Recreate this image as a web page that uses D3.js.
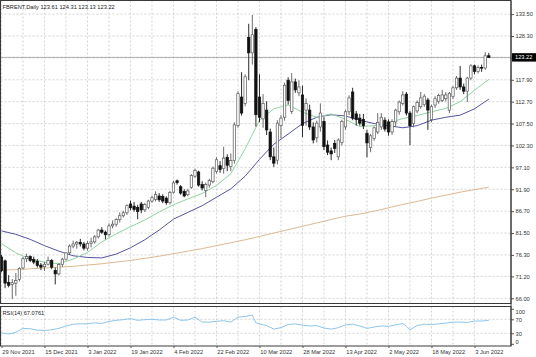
<!DOCTYPE html>
<html><head><meta charset="utf-8">
<script src="https://cdn.jsdelivr.net/npm/d3@7"></script>
<style>
html,body{margin:0;padding:0;background:#fff;}
svg{display:block;font-family:"Liberation Sans",Arial,sans-serif;}
</style></head><body>
<svg id="c" width="536" height="357"></svg>
<script>
// ---------------- DATA ----------------
const symbolTitle = "FBRENT,Daily  123.61 124.31 123.13 123.22";
const rsiTitle = "RSI(14) 67.0761";

const dates = [
"2021-11-29","2021-11-30",
"2021-12-01","2021-12-02","2021-12-03","2021-12-06","2021-12-07","2021-12-08","2021-12-09","2021-12-10","2021-12-13","2021-12-14","2021-12-15","2021-12-16","2021-12-17","2021-12-20","2021-12-21","2021-12-22","2021-12-23","2021-12-27","2021-12-28","2021-12-29","2021-12-30","2021-12-31",
"2022-01-03","2022-01-04","2022-01-05","2022-01-06","2022-01-07","2022-01-10","2022-01-11","2022-01-12","2022-01-13","2022-01-14","2022-01-17","2022-01-18","2022-01-19","2022-01-20","2022-01-21","2022-01-24","2022-01-25","2022-01-26","2022-01-27","2022-01-28","2022-01-31",
"2022-02-01","2022-02-02","2022-02-03","2022-02-04","2022-02-07","2022-02-08","2022-02-09","2022-02-10","2022-02-11","2022-02-14","2022-02-15","2022-02-16","2022-02-17","2022-02-18","2022-02-21","2022-02-22","2022-02-23","2022-02-24","2022-02-25","2022-02-28",
"2022-03-01","2022-03-02","2022-03-03","2022-03-04","2022-03-07","2022-03-08","2022-03-09","2022-03-10","2022-03-11","2022-03-14","2022-03-15","2022-03-16","2022-03-17","2022-03-18","2022-03-21","2022-03-22","2022-03-23","2022-03-24","2022-03-25","2022-03-28","2022-03-29","2022-03-30","2022-03-31",
"2022-04-01","2022-04-04","2022-04-05","2022-04-06","2022-04-07","2022-04-08","2022-04-11","2022-04-12","2022-04-13","2022-04-14","2022-04-18","2022-04-19","2022-04-20","2022-04-21","2022-04-22","2022-04-25","2022-04-26","2022-04-27","2022-04-28","2022-04-29",
"2022-05-02","2022-05-03","2022-05-04","2022-05-05","2022-05-06","2022-05-09","2022-05-10","2022-05-11","2022-05-12","2022-05-13","2022-05-16","2022-05-17","2022-05-18","2022-05-19","2022-05-20","2022-05-23","2022-05-24","2022-05-25","2022-05-26","2022-05-27","2022-05-30","2022-05-31",
"2022-06-01","2022-06-02","2022-06-03","2022-06-06","2022-06-07","2022-06-08","2022-06-09"
];

const open = [
75.8,74.9,69.8,69.3,69.6,70.5,73.2,75.4,75.9,75.2,
74.8,73.9,73.5,74.1,75.0,72.6,71.8,74.0,75.3,76.8,
78.4,78.9,79.3,78.9,77.9,79.0,79.4,80.6,82.2,81.7,
81.1,83.2,83.6,84.7,85.6,86.3,88.4,87.9,87.6,88.4,
87.0,87.6,89.1,89.5,90.3,90.2,89.8,88.7,91.2,93.9,
92.5,91.4,90.6,92.3,95.0,96.0,93.0,91.6,92.9,93.7,
96.1,97.5,96.8,99.5,97.3,98.7,107.0,113.8,112.3,128.0,
124.3,129.9,113.8,108.6,110.7,105.5,99.6,98.8,107.0,109.0,
117.8,110.4,117.4,114.8,114.3,110.7,110.7,106.7,104.1,106.7,
108.0,102.4,101.0,102.8,99.6,103.0,106.7,110.3,115.0,109.8,
108.8,108.5,105.2,101.8,104.0,105.5,106.7,108.3,107.9,105.5,
107.9,110.3,112.3,114.5,110.0,107.5,110.5,111.5,112.0,113.1,
108.5,111.9,112.8,113.0,113.4,110.7,113.9,116.0,118.3,116.2,
115.2,118.3,121.2,119.9,120.8,120.7,123.61
];
const high = [
76.3,75.2,71.5,70.6,72.0,73.4,75.8,76.6,76.2,75.9,
75.3,74.4,74.6,75.9,75.3,73.3,74.3,75.6,76.9,78.8,
79.7,79.6,80.1,79.4,79.6,80.4,81.0,82.5,82.9,82.1,
83.8,84.5,85.0,86.4,86.8,88.3,89.2,88.9,88.2,88.9,
88.6,89.4,90.4,91.4,91.0,90.7,90.2,91.5,93.9,94.2,
92.9,91.9,92.0,95.5,96.8,96.3,93.8,93.5,94.4,97.3,
99.5,98.6,102.0,100.2,100.4,107.8,115.2,119.7,119.2,131.2,
133.3,130.4,119.2,114.5,112.8,106.3,101.8,108.3,109.5,117.2,
118.5,119.5,118.2,117.8,116.5,113.5,112.0,107.8,108.2,112.3,
109.0,103.5,101.8,103.6,104.0,108.4,110.8,114.2,116.0,110.5,
109.8,109.8,106.0,105.0,106.8,110.0,110.0,109.0,108.5,108.5,
111.0,113.0,115.2,115.0,110.5,111.8,113.0,115.0,114.5,113.6,
112.0,114.0,114.6,115.5,115.0,115.0,116.4,118.8,121.2,117.0,
118.6,121.6,121.5,121.3,121.5,124.5,124.31
];
const low = [
72.2,68.4,68.6,65.8,66.6,70.0,72.9,74.6,74.6,74.1,
73.3,72.7,72.5,73.8,72.9,69.3,71.4,73.5,75.0,76.4,
77.9,77.8,78.3,77.4,77.3,78.1,79.0,80.2,81.3,80.0,
80.7,82.6,83.0,84.0,85.2,85.8,86.9,86.6,84.8,86.2,
86.5,87.2,88.7,89.0,88.9,88.6,88.2,88.3,90.9,93.0,
90.6,90.0,90.2,92.0,94.6,92.5,91.6,90.0,92.3,93.3,
95.6,95.8,95.6,96.2,96.2,98.0,106.5,109.4,111.6,117.8,
121.5,106.8,107.8,106.5,104.8,98.8,97.2,97.8,104.0,108.2,
112.0,109.8,114.8,114.0,104.3,107.0,106.0,102.8,103.0,105.6,
101.2,100.0,98.8,100.5,98.8,102.3,106.0,109.5,108.3,107.0,
107.0,106.2,99.5,100.7,103.4,105.0,106.0,105.6,104.6,104.8,
106.8,109.6,111.8,109.4,102.4,106.6,110.0,111.0,111.5,106.0,
107.8,111.2,112.2,112.6,112.8,110.0,113.3,115.5,115.5,114.5,
112.6,117.8,119.2,119.4,119.8,120.3,123.13
];
const close = [
72.6,69.6,69.1,69.7,70.2,73.1,75.4,75.9,75.0,74.6,
73.8,73.4,74.1,75.0,73.4,71.8,74.0,75.3,76.8,78.4,
78.9,79.3,78.9,77.9,79.0,79.4,80.6,82.2,81.7,81.1,
83.2,83.6,84.7,85.6,86.3,88.0,87.5,87.1,86.6,87.0,
88.3,89.1,89.9,90.7,89.4,89.1,88.7,91.1,93.4,93.5,
91.0,90.3,91.5,95.2,96.4,92.9,92.2,93.0,94.0,96.9,
98.9,96.6,99.3,97.6,98.7,107.2,114.6,110.0,118.6,124.3,
128.6,109.6,109.0,112.3,106.0,99.6,98.1,107.6,108.8,116.6,
113.0,117.4,115.5,116.2,107.1,112.3,106.7,103.6,107.6,110.0,
102.0,100.7,100.3,101.6,103.6,108.0,110.3,113.6,108.8,108.5,
107.6,107.0,102.9,104.6,106.5,107.8,109.0,106.2,105.5,108.0,
110.7,112.6,114.3,110.0,107.0,111.5,112.5,113.6,114.0,110.7,
111.5,113.4,114.2,114.3,114.3,114.7,116.0,118.3,116.2,115.2,
118.3,121.2,119.9,120.8,120.7,123.6,123.22
];

// moving averages at every 4th bar
const maBars = [0,4,8,12,16,20,24,28,32,36,40,44,48,52,56,60,64,68,72,76,80,84,88,92,96,100,104,108,112,116,120,124,128,132,136];
const maFast = [79.0,76.8,75.3,74.6,74.2,75.3,76.9,79.4,81.3,83.0,84.6,86.5,88.2,89.6,90.9,92.8,95.6,101.5,108.3,111.0,111.9,110.2,109.0,109.8,108.5,106.8,107.0,107.6,108.7,109.4,110.3,111.1,112.7,115.4,118.0];
const maMid  = [82.0,81.2,80.0,78.5,77.2,76.1,75.7,75.6,76.5,78.0,79.9,82.2,84.8,86.4,88.0,90.0,92.0,95.0,99.0,102.6,105.0,107.5,109.0,109.6,109.3,108.3,107.5,107.0,106.5,107.0,108.3,109.0,109.5,111.0,113.3];
const maSlow = [72.7,72.8,73.0,73.2,73.4,73.6,73.9,74.2,74.6,75.0,75.5,76.0,76.6,77.2,77.8,78.5,79.2,79.9,80.7,81.5,82.3,83.1,83.9,84.7,85.5,86.0,86.7,87.5,88.3,89.0,89.8,90.5,91.2,91.8,92.4];

// RSI(14)
const rsiBars = [0,2,4,6,8,10,12,14,16,18,20,22,24,26,28,30,32,34,36,38,40,42,44,46,48,50,52,54,56,58,60,62,64,66,68,70,71,72,74,76,78,80,82,84,86,88,90,92,94,96,98,100,102,104,106,108,110,112,113,114,116,118,120,122,124,126,128,130,132,134,136];
const rsiVals = [31,28,33,44,43,39,38,40,44,51,56,57,57,60,58,64,67,69,72,67,69,70,68,68,76,67,68,76,62,62,64,66,62,76,78,82,60,57,52,42,46,55,57,53,51,52,45,42,46,54,56,51,44,48,51,50,54,58,50,40,52,56,55,57,59,62,62,61,65,65,67.08];

const priceTicks = [133.50,128.30,123.10,117.90,112.70,107.50,102.30,97.10,91.90,86.70,81.50,76.30,71.20,66.00];
const rsiTicks = [100,70,30,0];
const rsiLevels = [70,30];
const dateTickDates = ["2021-11-29","2021-12-15","2022-01-03","2022-01-19","2022-02-04","2022-02-22","2022-03-10","2022-03-28","2022-04-13","2022-05-02","2022-05-18","2022-06-03"];
const dateTickLabels = ["29 Nov 2021","15 Dec 2021","3 Jan 2022","19 Jan 2022","4 Feb 2022","22 Feb 2022","10 Mar 2022","28 Mar 2022","13 Apr 2022","2 May 2022","18 May 2022","3 Jun 2022"];

// ---------------- LAYOUT ----------------
const svg = d3.select("#c");
const plotL = 0.5, plotR = 511, mainT = 0.5, mainB = 303.5, rsiT = 306.5, rsiB = 346;
const FS = 5.7;

const x = d3.scalePoint().domain(dates).range([1.5, 488.8]);
const y = d3.scaleLinear().domain([66, 133.5]).range([298.3, 14.1]);
const yr = d3.scaleLinear().domain([0, 100]).range([343.8, 308.8]);

svg.append("rect").attr("width",536).attr("height",357).attr("fill","#fff");

// grid
const gridDates = dates.filter((d,i)=> i % 6 === 0);
const grid = svg.append("g").attr("stroke","#c9c9c9").attr("stroke-width",0.8).attr("stroke-dasharray","2,2");
grid.selectAll(".vg").data(gridDates).join("line")
  .attr("x1",d=>x(d)).attr("x2",d=>x(d)).attr("y1",mainT).attr("y2",mainB);
grid.selectAll(".vr").data(gridDates).join("line").attr("class","vr")
  .attr("x1",d=>x(d)).attr("x2",d=>x(d)).attr("y1",rsiT).attr("y2",rsiB);
grid.selectAll(".hg").data(priceTicks).join("line").attr("class","hg")
  .attr("x1",plotL).attr("x2",plotR).attr("y1",d=>y(d)).attr("y2",d=>y(d));
grid.selectAll(".rl").data(rsiLevels).join("line").attr("class","rl")
  .attr("x1",plotL).attr("x2",plotR).attr("y1",d=>yr(d)).attr("y2",d=>yr(d));

// bid line
const last = close[close.length-1];
svg.append("line").attr("x1",plotL).attr("x2",plotR).attr("y1",y(last)).attr("y2",y(last))
  .attr("stroke","#9a9a9a").attr("stroke-width",0.8);

// moving averages
const maLine = vals => d3.line().x((b,i)=>x(dates[b])).y((b,i)=>y(vals[i]))(maBars);
svg.append("path").attr("d",maLine(maSlow)).attr("fill","none").attr("stroke","#dcb994").attr("stroke-width",1);
svg.append("path").attr("d",maLine(maMid)).attr("fill","none").attr("stroke","#55559e").attr("stroke-width",1);
svg.append("path").attr("d",maLine(maFast)).attr("fill","none").attr("stroke","#8fd3a2").attr("stroke-width",1);

// candles
const idx = d3.range(dates.length);
const cg = svg.append("g");
cg.selectAll(".wick").data(idx).join("line")
  .attr("x1",i=>x(dates[i])).attr("x2",i=>x(dates[i]))
  .attr("y1",i=>y(high[i])).attr("y2",i=>y(low[i]))
  .attr("stroke",i=> close[i] >= open[i] ? "#5a5a5a" : "#111").attr("stroke-width",0.9);
cg.selectAll(".body").data(idx).join("rect")
  .attr("x",i=>x(dates[i]) - 1.2)
  .attr("width",2.4)
  .attr("y",i=>y(Math.max(open[i],close[i])))
  .attr("height",i=>Math.max(0.6, Math.abs(y(open[i]) - y(close[i]))))
  .attr("fill",i=> close[i] >= open[i] ? "#fff" : "#111")
  .attr("stroke",i=> close[i] >= open[i] ? "#5a5a5a" : "#111")
  .attr("stroke-width",0.7);

// RSI
svg.append("path")
  .attr("d", d3.line().x(b=>x(dates[b])).y((b,i)=>yr(rsiVals[i]))(rsiBars))
  .attr("fill","none").attr("stroke","#8ec6ea").attr("stroke-width",1);

// frames
svg.append("rect").attr("x",plotL).attr("y",mainT).attr("width",plotR-plotL).attr("height",mainB-mainT)
  .attr("fill","none").attr("stroke","#3a3a3a").attr("stroke-width",1);
svg.append("rect").attr("x",plotL).attr("y",rsiT).attr("width",plotR-plotL).attr("height",rsiB-rsiT)
  .attr("fill","none").attr("stroke","#3a3a3a").attr("stroke-width",1);

// price axis
const ay = svg.append("g").attr("transform",`translate(${plotR},0)`)
  .call(d3.axisRight(y).tickValues(priceTicks).tickFormat(d3.format(".2f")).tickSize(3).tickPadding(1.5));
ay.select(".domain").remove();
ay.selectAll("line").attr("stroke","#555");
ay.selectAll("text").attr("font-size",FS).attr("fill","#333").attr("font-family","Liberation Sans, Arial, sans-serif");

// rsi axis
const ar = svg.append("g").attr("transform",`translate(${plotR},0)`)
  .call(d3.axisRight(yr).tickValues(rsiTicks).tickSize(3).tickPadding(1.5));
ar.select(".domain").remove();
ar.selectAll("line").attr("stroke","#555");
ar.selectAll("text").attr("font-size",FS).attr("fill","#333").attr("font-family","Liberation Sans, Arial, sans-serif")
  .attr("dy", d => d === 100 ? "0.85em" : d === 0 ? "0em" : "0.32em");

// right axis line
svg.append("line").attr("x1",plotR).attr("x2",plotR).attr("y1",mainT).attr("y2",rsiB).attr("stroke","#3a3a3a");

// current price label
const cp = svg.append("g").attr("transform",`translate(${plotR+1},${y(last)})`);
cp.append("rect").attr("x",0).attr("y",-4.2).attr("width",24).attr("height",8.4).attr("fill","#000");
cp.append("text").attr("x",3).attr("y",2.1).attr("font-size",FS).attr("fill","#fff").text(d3.format(".2f")(last));

// date axis
const ax = svg.append("g").attr("transform",`translate(0,${rsiB})`)
  .call(d3.axisBottom(x).tickValues(dateTickDates).tickFormat((d,i)=>dateTickLabels[i]).tickSize(2).tickPadding(1.5));
ax.select(".domain").remove();
ax.selectAll("line").attr("stroke","#555");
ax.selectAll("text").attr("font-size",FS).attr("fill","#333").attr("text-anchor","start").attr("x",0.3)
  .attr("font-family","Liberation Sans, Arial, sans-serif");

// titles
svg.append("text").attr("x",2.5).attr("y",9).attr("font-size",FS).attr("fill","#222").text(symbolTitle);
svg.append("text").attr("x",2.5).attr("y",315.3).attr("font-size",FS).attr("fill","#222").text(rsiTitle);
</script>
</body></html>
